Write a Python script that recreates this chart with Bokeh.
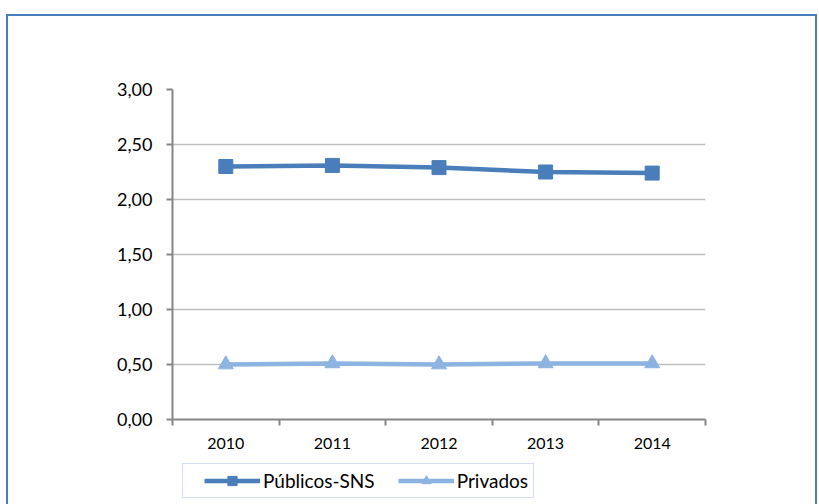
from bokeh.plotting import figure
from bokeh.layouts import column
from bokeh.models import FixedTicker, Range1d, Legend, LegendItem, ColumnDataSource
from bokeh.embed import file_html
from bokeh.resources import INLINE

years = ["2010", "2011", "2012", "2013", "2014"]
publicos = [2.30, 2.31, 2.29, 2.25, 2.24]
privados = [0.50, 0.51, 0.50, 0.51, 0.51]
y_ticks = [0.0, 0.5, 1.0, 1.5, 2.0, 2.5, 3.0]
series_names = ["Públicos-SNS", "Privados"]

FONT = "Lato"
c1 = "#4a7ebb"
c2 = "#8db3e2"
xpos = [i + 0.5 for i in range(len(years))]
src = ColumnDataSource(dict(x=xpos, pub=publicos, pri=privados))

p = figure(output_backend="svg", toolbar_location=None,
           frame_width=533, frame_height=330,
           min_border_left=164, min_border_right=110,
           min_border_top=73, min_border_bottom=42,
           x_range=Range1d(0, len(years)), y_range=Range1d(0, 3.0))
p.outline_line_color = None
p.background_fill_color = "white"
p.border_fill_color = "white"

# y axis
p.yaxis.ticker = FixedTicker(ticks=y_ticks)
p.yaxis.major_label_overrides = {t: f"{t:.2f}".replace(".", ",") for t in y_ticks}
p.yaxis.axis_line_color = "#868686"
p.yaxis.axis_line_width = 2
p.yaxis.major_tick_line_color = "#868686"
p.yaxis.major_tick_line_width = 2
p.yaxis.major_tick_out = 6
p.yaxis.major_tick_in = 0
p.yaxis.minor_tick_line_color = None
p.yaxis.major_label_text_font = FONT
p.yaxis.major_label_text_font_size = "18px"
p.yaxis.major_label_text_color = "black"
p.yaxis.major_label_standoff = 14

# x axis: labels at centers, ticks at boundaries
p.xaxis.ticker = FixedTicker(ticks=xpos, minor_ticks=list(range(len(years) + 1)))
p.xaxis.major_label_overrides = {x: y for x, y in zip(xpos, years)}
p.xaxis.axis_line_color = "#868686"
p.xaxis.axis_line_width = 2
p.xaxis.major_tick_line_color = None
p.xaxis.major_tick_out = 0
p.xaxis.major_tick_in = 0
p.xaxis.minor_tick_line_color = "#868686"
p.xaxis.minor_tick_line_width = 2
p.xaxis.minor_tick_out = 6
p.xaxis.minor_tick_in = 0
p.xaxis.major_label_text_font = FONT
p.xaxis.major_label_text_font_size = "16px"
p.xaxis.major_label_text_color = "black"
p.xaxis.major_label_standoff = 12

p.xgrid.grid_line_color = None
p.ygrid.grid_line_color = "#bfbfbf"
p.ygrid.grid_line_width = 1.5

p.line("x", "pub", source=src, line_color=c1, line_width=4.5)
p.scatter("x", "pub", source=src, marker="square", size=14, fill_color=c1, line_color=c1)
p.line("x", "pri", source=src, line_color=c2, line_width=4.5)
p.scatter("x", "pri", source=src, marker="triangle", size=15, fill_color=c2, line_color=c2)

# legend strip below the chart
lg = figure(output_backend="svg", toolbar_location=None, width=807, height=44,
            min_border=0, x_axis_location=None, y_axis_location=None,
            x_range=Range1d(0, 1), y_range=Range1d(0, 1))
lg.outline_line_color = None
lg.grid.grid_line_color = None
lg.border_fill_color = "white"
hidden = ColumnDataSource(dict(x=[-10, -9], y=[-10, -10]))
el1 = lg.line("x", "y", source=hidden, line_color=c1, line_width=4.5)
em1 = lg.scatter("x", "y", source=hidden, marker="square", size=14, fill_color=c1, line_color=c1)
el2 = lg.line("x", "y", source=hidden, line_color=c2, line_width=4.5)
em2 = lg.scatter("x", "y", source=hidden, marker="triangle", size=15, fill_color=c2, line_color=c2)

legend = Legend(items=[LegendItem(label=series_names[0], renderers=[el1, em1]),
                       LegendItem(label=series_names[1], renderers=[el2, em2])],
                location=(10, 7), orientation="horizontal",
                title=" ", title_location="left", title_text_font_size="2px",
                title_standoff=14,
                label_text_font=FONT, label_text_font_size="19px",
                label_text_color="black",
                glyph_width=56, glyph_height=23, label_standoff=3,
                spacing=23, padding=5, margin=0,
                border_line_color="#a7c0de", border_line_width=1.5,
                background_fill_color="white", background_fill_alpha=1)
lg.add_layout(legend, "center")

layout = column(p, lg, spacing=0)
layout.styles = {"border": "2px solid #4a7ebb", "margin-left": "6px",
                 "margin-top": "14px", "background-color": "white"}

open("out.html", "w").write(file_html(layout, INLINE))
